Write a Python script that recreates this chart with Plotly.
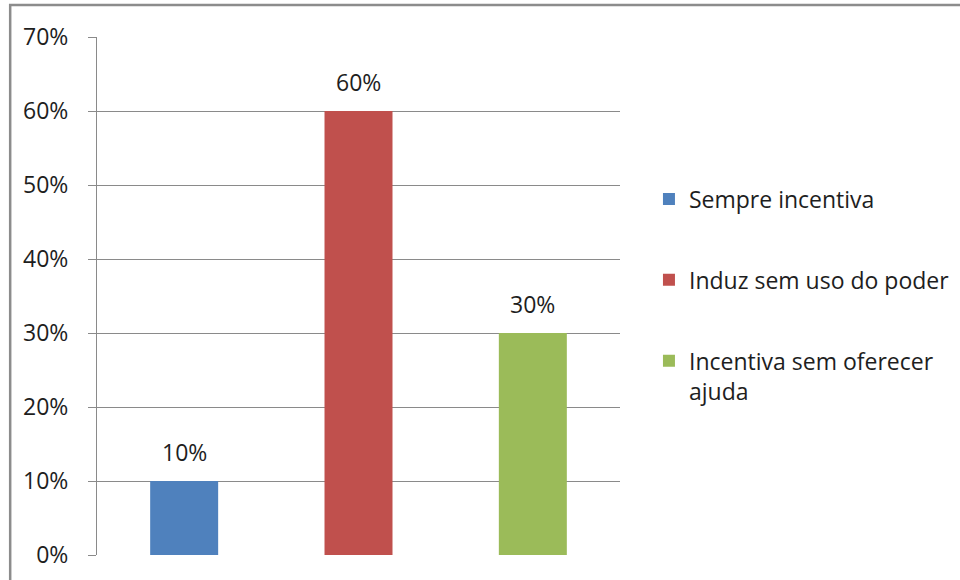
import plotly.graph_objects as go

# Response categories and their shares
categories = ["Sempre incentiva", "Induz sem uso do poder", "Incentiva sem oferecer ajuda"]
legend_names = ["Sempre incentiva", "Induz sem uso do poder", "Incentiva sem oferecer<br>ajuda"]
shares = [0.10, 0.60, 0.30]
colors = ["#4F81BD", "#C0504D", "#9BBB59"]
y_ticks = [0.0, 0.1, 0.2, 0.3, 0.4, 0.5, 0.6, 0.7]

FONT = "Open Sans"
TEXT = "#1e1e1e"
GRID = "#8a8a8a"

fig = go.Figure()
for cat, name, val, col in zip(categories, legend_names, shares, colors):
    fig.add_trace(go.Bar(
        x=[cat], y=[val], name=name, marker_color=col,
        marker_line_width=0, width=0.39, legendgroup=cat,
    ))
    fig.add_annotation(
        x=cat, y=val, text=f"{val:.0%}", showarrow=False,
        yanchor="bottom", yshift=11,
        font=dict(family=FONT, size=23, color=TEXT),
    )

# outer chart frame
fig.add_shape(type="rect", xref="paper", yref="paper",
              x0=-0.166, x1=1.9, y0=-0.3, y1=1.062,
              line=dict(color="#8c8c8c", width=2.5), layer="below")

fig.update_layout(
    width=960, height=580,
    margin=dict(l=97, r=340, t=37, b=25),
    paper_bgcolor="white", plot_bgcolor="white",
    barmode="overlay",
    showlegend=True,
    legend=dict(
        xref="container", yref="container",
        x=0.676, xanchor="left", y=0.694, yanchor="top",
        font=dict(family=FONT, size=23, color=TEXT),
        tracegroupgap=48, traceorder="grouped", valign="top",
        bgcolor="rgba(0,0,0,0)",
    ),
    xaxis=dict(
        type="category", categoryarray=categories,
        showticklabels=False, ticks="", showgrid=False,
        showline=False, zeroline=False, automargin=False,
    ),
    yaxis=dict(
        range=[0, 0.7], tickvals=y_ticks, tickformat=".0%",
        showgrid=True, gridcolor=GRID, gridwidth=1,
        showline=True, linecolor=GRID, linewidth=1,
        ticks="outside", ticklen=8, tickcolor=GRID,
        zeroline=False, ticklabelstandoff=15, automargin=False,
        tickfont=dict(family=FONT, size=23, color=TEXT),
    ),
)

fig.write_html("out.html")
